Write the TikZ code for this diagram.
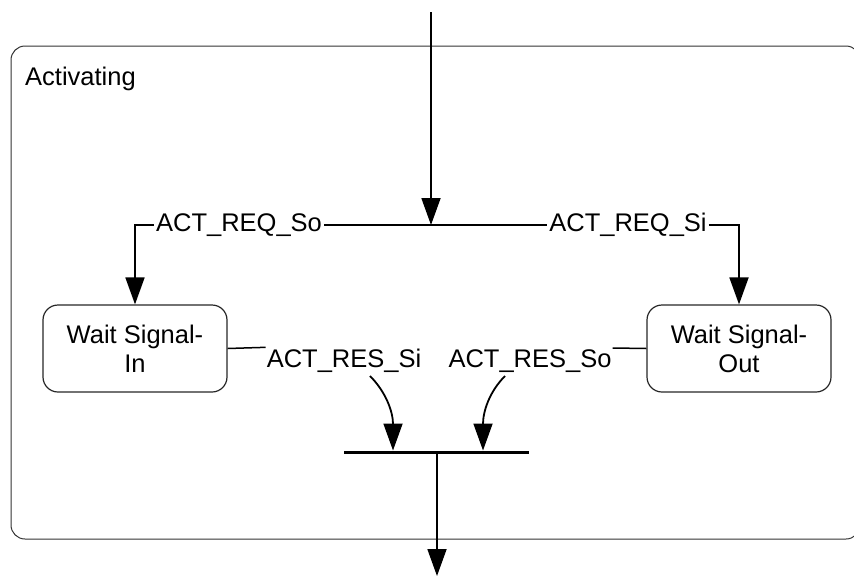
\documentclass[tikz,border=0pt]{standalone}
\usepackage{fontspec}
\setmainfont{Liberation Sans}
\usetikzlibrary{arrows.meta,calc}
\begin{document}
\begin{tikzpicture}[x=1pt,y=-1pt,
  every node/.style={font=\fontsize{25.5}{29}\selectfont},
  conn/.style={line width=1.8pt},
  arr/.style={conn,-{Triangle[length=27pt,width=19pt]}},
  statebox/.style={draw=black!85,line width=1.2pt,rounded corners=15pt,minimum width=184pt,minimum height=87pt,align=center,inner sep=0pt},
  lbl/.style={fill=white,inner sep=2pt}]
\useasboundingbox (0,0) rectangle (854,576);
% composite state
\draw[black!80,line width=1pt,rounded corners=14pt] (11,46) rectangle (860,539);
\node[anchor=base west,inner sep=0pt] (title) at (25,85) {Activating};
% states
\node[statebox] (boxL) at (135,348.5) {Wait Signal-\\In};
\node[statebox] (boxR) at (739,348.5) {Wait Signal-\\Out};
% fork
\coordinate (start) at (431,12);
\coordinate (fork) at (431,225);
\node[lbl] (reqSo) at (239,225) {ACT\_REQ\_So};
\node[lbl] (reqSi) at (628,225) {ACT\_REQ\_Si};
\draw[arr] (start) -- (fork);
\draw[conn] (fork) -- (reqSo.east);
\draw[conn] (fork) -- (reqSi.west);
\draw[arr] (reqSo.west) -| (boxL.north);
\draw[arr] (reqSi.east) -| (boxR.north);
% join
\node[fill=black,minimum width=185pt,minimum height=3pt,inner sep=0pt] (bar) at (436.5,452) {};
\node[anchor=base,inner sep=1pt] (resSi) at (344,367) {ACT\_RES\_Si};
\node[anchor=base,inner sep=1pt] (resSo) at (530,367) {ACT\_RES\_So};
\draw[line width=1.5pt] (boxL.east) -- (resSi.north west);
\draw[line width=1.5pt] (boxR.west) -- (resSo.north east);
\coordinate (c1) at (370,376);
\coordinate (c2) at (505,376);
\coordinate (j1) at (393,450.5);
\coordinate (j2) at (483,450.5);
\draw[arr] (c1) .. controls (386,392) and (393,412) .. (j1);
\draw[arr] (c2) .. controls (489,392) and (483,412) .. (j2);
\coordinate (exit) at (437,576);
\draw[arr] (bar.south -| exit) -- (exit);
\end{tikzpicture}
\end{document}
